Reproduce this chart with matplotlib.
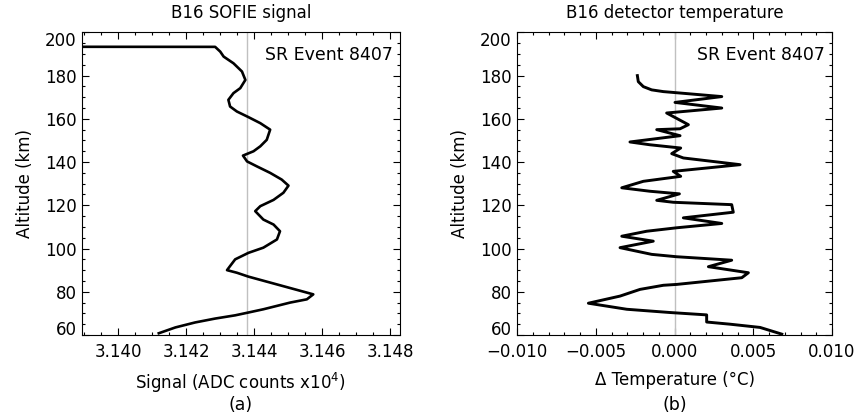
import matplotlib
matplotlib.use("Agg")
import matplotlib.pyplot as plt
from matplotlib.ticker import MultipleLocator, FuncFormatter

# B16 SOFIE signal (ADC counts x10^4) vs altitude (km)
sig_alt = [200.0, 193.4, 193.3, 191.1, 188.8, 185.7, 181.9, 178.0, 174.2, 171.9,
           168.8, 165.7, 163.4, 160.8, 158.0, 155.0, 150.3, 147.3, 145.0, 143.0,
           140.3, 138.0, 135.0, 131.9, 129.1, 125.8, 122.5, 119.6, 117.3, 113.4,
           111.1, 108.0, 104.2, 100.4, 98.0, 95.0, 91.9, 90.0, 88.8, 87.0,
           78.8, 76.5, 75.0, 71.9, 70.4, 69.1, 67.6, 65.8, 63.5, 60.8]
sig_val = [3.1300, 3.1300, 3.14285, 3.14300, 3.14310, 3.14339, 3.14364, 3.14374, 3.14359, 3.14339,
           3.14324, 3.14329, 3.14349, 3.14383, 3.14418, 3.14447, 3.14437, 3.14418, 3.14398, 3.14367,
           3.14379, 3.14408, 3.14447, 3.14481, 3.14501, 3.14486, 3.14457, 3.14418, 3.14403, 3.14427,
           3.14457, 3.14476, 3.14467, 3.14427, 3.14383, 3.14344, 3.14329, 3.14320, 3.14349, 3.14383,
           3.14574, 3.14555, 3.14506, 3.14427, 3.14383, 3.14344, 3.14285, 3.14226, 3.14168, 3.14119]
sig_ref = 3.1438

# B16 detector temperature change (C) vs altitude (km)
tmp_alt = [180.0, 177.2, 174.9, 173.4, 172.6, 170.3, 167.6, 165.0, 162.7, 157.3,
           155.4, 155.0, 152.2, 149.3, 148.0, 146.5, 143.9, 141.9, 138.8, 135.7,
           133.4, 131.1, 128.1, 126.5, 125.3, 122.3, 121.4, 120.3, 116.8, 114.2,
           111.6, 109.6, 108.0, 105.7, 103.4, 100.4, 97.3, 96.2, 94.6, 91.6,
           88.8, 86.5, 83.4, 83.0, 81.1, 78.0, 74.7, 71.9, 70.4, 69.3,
           66.0, 65.0, 63.5, 60.4]
tmp_val = [-0.00236, -0.00230, -0.00198, -0.00145, -0.00071, 0.00300, 0.00003, 0.00300, -0.00050, 0.00088,
           0.00035, -0.00113, 0.00035, -0.00283, -0.00156, 0.00039, -0.00018, 0.00056, 0.00416, -0.00008,
           0.00039, -0.00198, -0.00335, -0.00156, 0.00031, -0.00113, -0.00008, 0.00363, 0.00373, 0.00056,
           0.00300, 0.00014, -0.00177, -0.00335, -0.00135, -0.00346, -0.00145, 0.00014, 0.00363, 0.00215,
           0.00469, 0.00427, 0.00014, -0.00071, -0.00219, -0.00346, -0.00547, -0.00303, -0.00029, 0.00204,
           0.00204, 0.00352, 0.00543, 0.00681]

plt.rcParams['font.family'] = 'DejaVu Sans'
plt.rcParams['font.size'] = 12

fig = plt.figure(figsize=(8.59, 4.20), dpi=100)
ax1 = fig.add_axes([0.0955, 0.2024, 0.370, 0.7205])
ax2 = fig.add_axes([0.6019, 0.2024, 0.3667, 0.7205])

fmt3 = FuncFormatter(lambda v, p: ('%.3f' % v).replace('-', '\u2212'))


def style_axis(ax, xminor):
    ax.set_ylim(60, 200)
    ax.yaxis.set_major_locator(MultipleLocator(20))
    ax.yaxis.set_minor_locator(MultipleLocator(5))
    ax.xaxis.set_minor_locator(MultipleLocator(xminor))
    ax.xaxis.set_major_formatter(fmt3)
    ax.tick_params(which='both', direction='in', top=True, right=True, width=0.8,
                   labelsize=12)
    ax.tick_params(which='major', length=5)
    ax.tick_params(which='minor', length=2.5)
    ax.tick_params(axis='x', pad=6)
    ax.tick_params(axis='y', pad=4)
    for s in ax.spines.values():
        s.set_linewidth(0.8)
    ax.set_ylabel('Altitude (km)', labelpad=8)
    ax.text(0.978, 0.925, 'SR Event 8407', transform=ax.transAxes,
            ha='right', va='center', fontsize=12.5)


# left panel: signal
ax1.axvline(sig_ref, color='#c0c0c0', lw=1.0)
ax1.plot(sig_val, sig_alt, color='black', lw=1.9)
ax1.set_xlim(3.13893, 3.14829)
ax1.xaxis.set_major_locator(MultipleLocator(0.002))
style_axis(ax1, 0.0005)
ax1.set_title('B16 SOFIE signal', fontsize=12, pad=10)
ax1.set_xlabel('Signal (ADC counts x10$^4$)', labelpad=7)

# right panel: temperature
ax2.axvline(0.0, color='#c0c0c0', lw=1.0)
ax2.plot(tmp_val, tmp_alt, color='black', lw=2.1)
ax2.set_xlim(-0.010, 0.010)
ax2.xaxis.set_major_locator(MultipleLocator(0.005))
style_axis(ax2, 0.001)
ax2.set_title('B16 detector temperature', fontsize=12, pad=10)
ax2.set_xlabel('Δ Temperature (°C)', labelpad=7)

fig.text(0.0955 + 0.370 / 2, 0.035, '(a)', ha='center', va='center', fontsize=12.5)
fig.text(0.6019 + 0.3667 / 2, 0.035, '(b)', ha='center', va='center', fontsize=12.5)

# keep the end altitude labels inside the frame, like the original
fig.canvas.draw()
for ax in (ax1, ax2):
    for t in ax.yaxis.get_major_ticks():
        if abs(t.get_loc() - 200) < 1e-6:
            t.label1.set_verticalalignment('top')
        elif abs(t.get_loc() - 60) < 1e-6:
            t.label1.set_verticalalignment('baseline')

fig.savefig('out.png', dpi=100)
